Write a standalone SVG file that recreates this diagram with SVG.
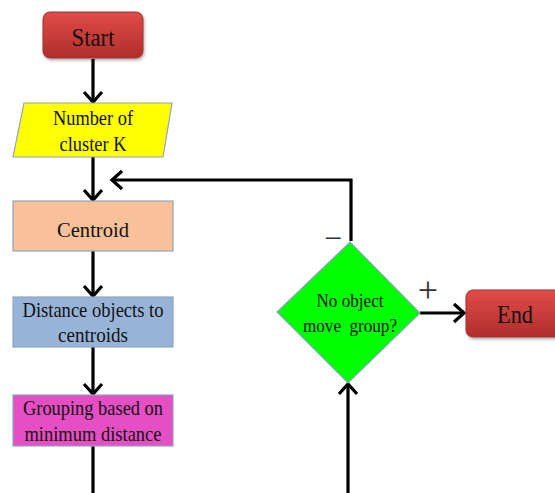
<svg xmlns="http://www.w3.org/2000/svg" width="555" height="493" viewBox="0 0 555 493">
<defs>
<linearGradient id="red" x1="0" y1="0" x2="0" y2="1">
<stop offset="0" stop-color="#e24b48"/>
<stop offset="1" stop-color="#b02e2c"/>
</linearGradient>
<marker id="arr" markerUnits="userSpaceOnUse" markerWidth="16" markerHeight="22" refX="12" refY="11" orient="auto" viewBox="0 0 16 22">
<path d="M2,2 L12,11 L2,20" fill="none" stroke="#000" stroke-width="3.2" stroke-linejoin="miter"/>
</marker>
<filter id="sh" x="-10%" y="-10%" width="130%" height="140%">
<feDropShadow dx="1" dy="2" stdDeviation="1.5" flood-color="#000" flood-opacity="0.3"/>
</filter>
</defs>
<style>
text{font-family:"Liberation Serif","Times New Roman",serif;fill:#111;text-anchor:middle}
.box{stroke:#8ea4c2;stroke-width:1.2}
.term{fill:url(#red);stroke:#a03030;stroke-width:1;filter:url(#sh)}
.c{fill:none;stroke:#000;stroke-width:3.2}
.t{font-size:21px}
.big{font-size:26px}
.sign{fill:#333}
</style>
<rect width="555" height="493" fill="#fff"/>
<g id="connectors">
<line class="c" x1="93" y1="59" x2="93" y2="102" marker-end="url(#arr)"/>
<line class="c" x1="93" y1="157" x2="93" y2="200" marker-end="url(#arr)"/>
<line class="c" x1="93" y1="251" x2="93" y2="296" marker-end="url(#arr)"/>
<line class="c" x1="93" y1="347" x2="93" y2="394" marker-end="url(#arr)"/>
<line class="c" x1="93" y1="446" x2="93" y2="493"/>
<path class="c" d="M348,493 L348,384" marker-end="url(#arr)"/>
<path class="c" d="M351,241 L351,180 L112,180" marker-end="url(#arr)"/>
<line class="c" x1="420" y1="313" x2="464" y2="313" marker-end="url(#arr)"/>
<text class="sign" x="333" y="249" style="font-size:32px">−</text>
<text class="sign" x="428" y="302" style="font-size:36px">+</text>
</g>
<g id="start">
<rect class="term" x="43" y="12" width="100" height="46" rx="7"/>
<text class="big" x="93" y="46" textLength="43" lengthAdjust="spacingAndGlyphs">Start</text>
</g>
<g id="input">
<polygon class="box" points="24,103 172,103 163,157 13,157" fill="#ffff00"/>
<text class="t" x="93" y="125" textLength="80" lengthAdjust="spacingAndGlyphs">Number of</text>
<text class="t" x="93" y="151" textLength="67" lengthAdjust="spacingAndGlyphs">cluster K</text>
</g>
<g id="centroid">
<rect class="box" x="13" y="201" width="160" height="50" fill="#f9c19a"/>
<text class="t" x="93" y="237" textLength="72" lengthAdjust="spacingAndGlyphs">Centroid</text>
</g>
<g id="distance">
<rect class="box" x="13" y="297" width="160" height="50" fill="#97b4d8"/>
<text class="t" x="93" y="317" textLength="141" lengthAdjust="spacingAndGlyphs">Distance objects to</text>
<text class="t" x="93" y="342" textLength="70" lengthAdjust="spacingAndGlyphs">centroids</text>
</g>
<g id="grouping">
<rect class="box" x="13" y="395" width="160" height="51" fill="#e64fc3"/>
<text class="t" x="93" y="415" textLength="140" lengthAdjust="spacingAndGlyphs">Grouping based on</text>
<text class="t" x="93" y="441" textLength="137" lengthAdjust="spacingAndGlyphs">minimum distance</text>
</g>
<g id="decision">
<polygon class="box" points="350,242 420,313 348,383 277,312" fill="#00ff00" stroke="#6f8fa0"/>
<text x="350" y="307" style="font-size:19px" textLength="67" lengthAdjust="spacingAndGlyphs">No object</text>
<text x="350" y="332" style="font-size:19px;white-space:pre" textLength="94" lengthAdjust="spacingAndGlyphs" xml:space="preserve">move  group?</text>
</g>
<g id="end">
<rect class="term" x="466" y="290" width="100" height="47" rx="7"/>
<text class="big" x="515" y="323" textLength="36" lengthAdjust="spacingAndGlyphs">End</text>
</g>
</svg>
